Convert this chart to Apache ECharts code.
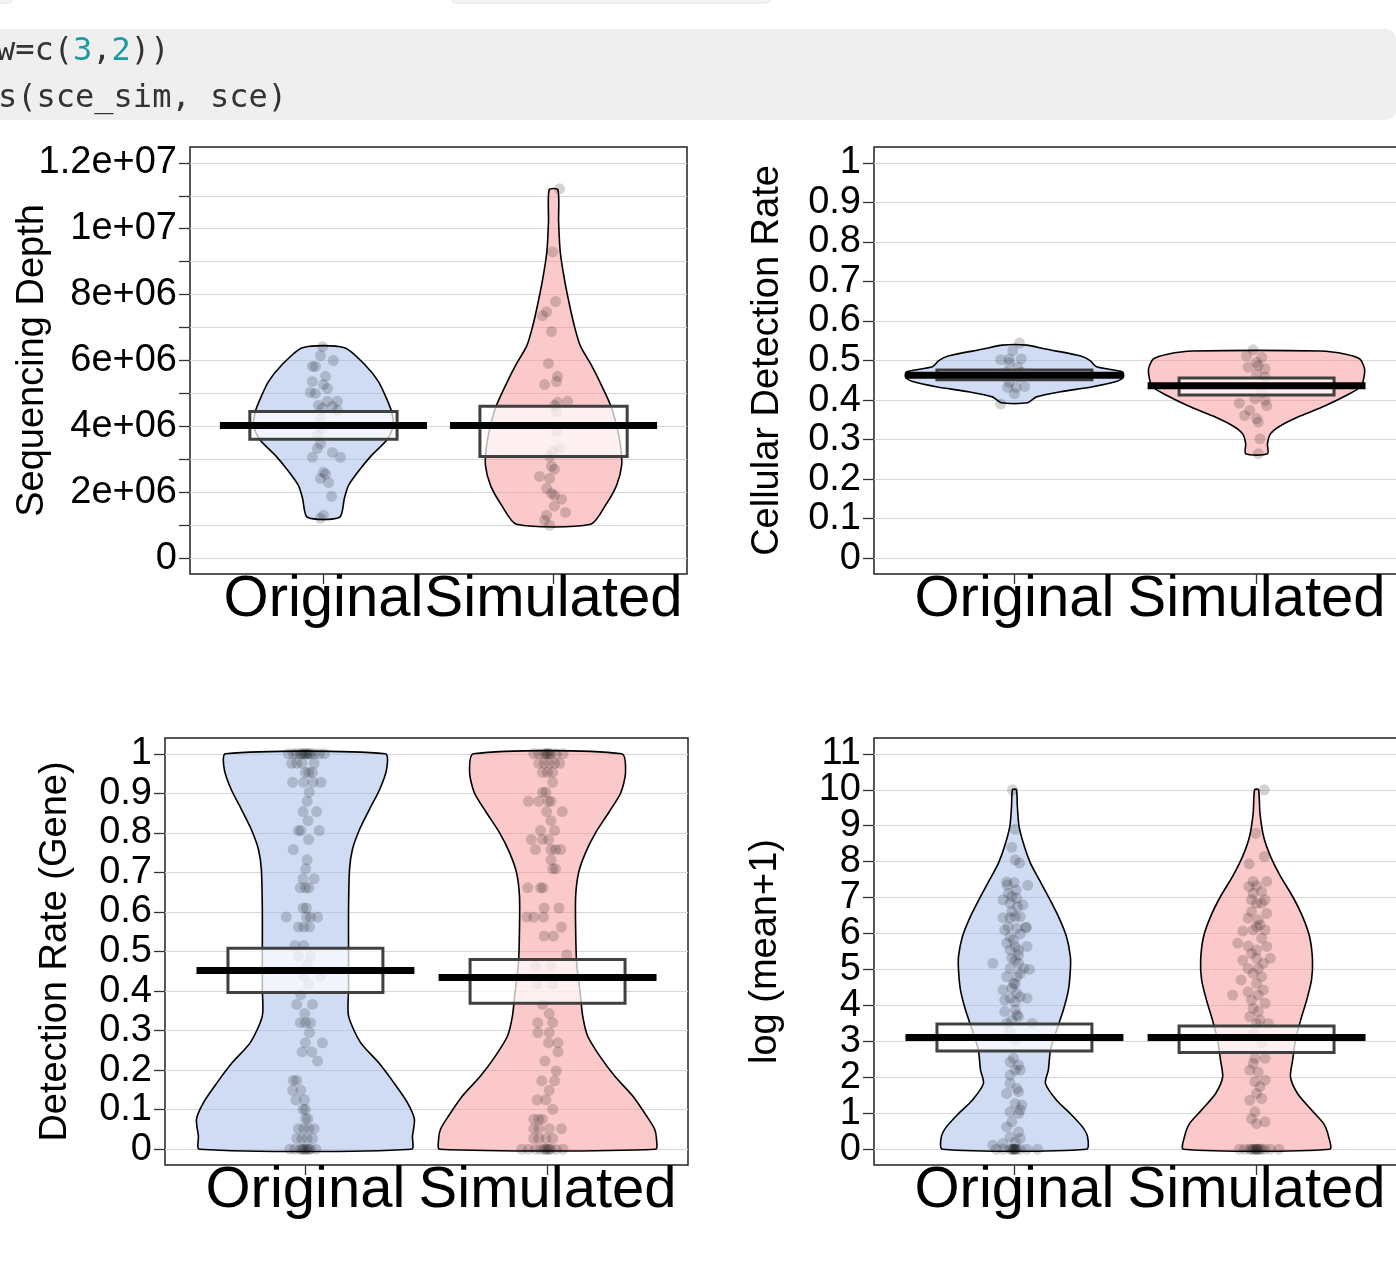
<!DOCTYPE html>
<html>
<head>
<meta charset="utf-8">
<script src="https://cdn.jsdelivr.net/npm/echarts@6/dist/echarts.min.js"></script>
<style>
html, body { margin: 0; padding: 0; background: #fff; }
#main { width: 1396px; height: 1275px; }
</style>
</head>
<body>
<div id="main"></div>
<script>
// groups on the x axis (placed at 1 and 2)
var groups = ['Original', 'Simulated'];

// ---- Sequencing Depth ----
// violin outlines: [value, half width in x units], top to bottom
var depthOrigViolin = [[6.39e6,0.091],[5.85e6,0.183],[5.36e6,0.239],[4.85e6,0.274],[4.45e6,0.296],[4.03e6,0.304],[3.61e6,0.278],[3.12e6,0.209],[2.64e6,0.152],[2.21e6,0.109],[1.82e6,0.091],[1.24e6,0.070]];
var depthSimViolin = [[11.18e6,0.019],[10.21e6,0.022],[9.30e6,0.029],[8.48e6,0.047],[7.67e6,0.070],[7.06e6,0.090],[6.45e6,0.116],[5.85e6,0.165],[5.24e6,0.209],[4.64e6,0.248],[4.03e6,0.274],[3.42e6,0.291],[2.82e6,0.296],[2.21e6,0.274],[1.61e6,0.226],[1.03e6,0.161]];
var depthOrigPts = [[0.996,6.42e6],[0.987,6.15e6],[1.043,6.00e6],[0.952,5.82e6],[0.965,5.82e6],[1.009,5.52e6],[0.952,5.36e6],[1.0,5.27e6],[1.017,5.15e6],[0.943,5.03e6],[0.965,5.0e6],[1.017,4.76e6],[1.061,4.76e6],[0.978,4.64e6],[1.039,4.61e6],[0.996,4.55e6],[1.061,4.48e6],[0.987,4.24e6],[0.996,3.94e6],[0.974,3.73e6],[0.987,3.48e6],[0.974,3.33e6],[1.039,3.21e6],[0.952,3.06e6],[1.074,3.06e6],[1.0,2.61e6],[1.009,2.55e6],[0.987,2.42e6],[1.022,2.30e6],[1.035,1.88e6],[1.0,1.30e6],[0.987,1.21e6]];
var depthSimPts = [[2.026,11.21e6],[1.996,9.30e6],[2.009,7.79e6],[1.970,7.48e6],[1.952,7.36e6],[1.991,6.88e6],[1.978,5.91e6],[2.017,5.52e6],[2.013,5.36e6],[1.961,5.27e6],[2.017,4.73e6],[2.061,4.76e6],[2.004,4.64e6],[2.013,4.45e6],[2.013,3.85e6],[2.026,3.33e6],[1.996,3.24e6],[1.983,3.09e6],[1.991,2.79e6],[2.004,2.70e6],[1.939,2.48e6],[1.983,2.42e6],[1.970,2.12e6],[1.991,1.97e6],[2.004,1.91e6],[2.035,1.79e6],[2.004,1.58e6],[2.052,1.39e6],[1.970,1.30e6],[1.961,1.15e6],[1.983,1.00e6]];
var depthBoxes = [[1, 3.61e6, 4.45e6], [2, 3.09e6, 4.61e6]];
var depthMeans = [[1, 4.03e6], [2, 4.03e6]];
var depthTicks = [0,1e6,2e6,3e6,4e6,5e6,6e6,7e6,8e6,9e6,1e7,1.1e7,1.2e7];
var depthLabelVals = [0,2e6,4e6,6e6,8e6,1e7,1.2e7];
var depthLabelText = ['0','2e+06','4e+06','6e+06','8e+06','1e+07','1.2e+07'];

// ---- Cellular Detection Rate ----
var cdrOrigViolin = [[0.539,0.050],[0.529,0.128],[0.511,0.277],[0.499,0.314],[0.484,0.339],[0.471,0.446],[0.458,0.450],[0.446,0.417],[0.433,0.318],[0.421,0.19],[0.408,0.091],[0.393,0.054]];
var cdrSimViolin = [[0.524,0.264],[0.516,0.368],[0.504,0.426],[0.479,0.446],[0.453,0.442],[0.433,0.430],[0.411,0.368],[0.385,0.281],[0.360,0.182],[0.335,0.099],[0.315,0.058],[0.290,0.045],[0.264,0.045]];
var cdrOrigPts = [[1.021,0.544],[0.993,0.525],[0.979,0.504],[0.943,0.502],[1.028,0.504],[0.979,0.494],[1.014,0.483],[1.028,0.470],[0.965,0.470],[0.993,0.462],[1.021,0.458],[0.979,0.445],[1.042,0.434],[1.007,0.432],[0.972,0.432],[1.0,0.416],[0.943,0.390]];
var cdrSimPts = [[1.986,0.527],[1.958,0.512],[2.021,0.508],[2.0,0.495],[1.965,0.483],[2.007,0.487],[2.035,0.479],[2.0,0.466],[2.035,0.458],[2.021,0.420],[1.993,0.403],[2.035,0.399],[1.929,0.392],[2.042,0.386],[1.972,0.374],[1.951,0.361],[2.0,0.353],[2.007,0.344],[2.014,0.302],[2.007,0.264]];
var cdrBoxes = [[1, 0.451, 0.476], [2, 0.413, 0.456]];
var cdrMeans = [[1, 0.463], [2, 0.436]];

// ---- Detection Rate (Gene) ----
var geneOrigViolin = [[1.0,0.33],[0.96,0.335],[0.909,0.306],[0.859,0.264],[0.808,0.223],[0.758,0.194],[0.707,0.182],[0.606,0.178],[0.505,0.178],[0.404,0.178],[0.337,0.178],[0.270,0.227],[0.219,0.302],[0.169,0.364],[0.118,0.421],[0.076,0.450],[0.033,0.442],[0.0,0.438]];
var geneSimViolin = [[1.0,0.306],[0.952,0.322],[0.901,0.302],[0.851,0.252],[0.800,0.198],[0.750,0.157],[0.699,0.128],[0.640,0.116],[0.556,0.116],[0.472,0.120],[0.388,0.136],[0.337,0.145],[0.287,0.165],[0.236,0.215],[0.185,0.277],[0.135,0.351],[0.084,0.409],[0.051,0.442],[0.025,0.45],[0.0,0.446]];
var geneOrigPts = [[0.929,1],[0.950,1],[0.964,1],[0.979,1],[0.993,1],[1.007,1],[1.021,1],[1.036,1],[1.057,1],[1.079,1],[0.986,1],[1.0,1],[1.014,1],
  [0.943,0.976],[0.964,0.976],[0.986,0.976],[1.036,0.976],[1.0,0.953],[1.014,0.953],[1.029,0.953],[0.947,0.928],[0.993,0.928],[1.031,0.928],[1.064,0.928],
  [1.016,0.903],[1.007,0.880],[0.990,0.854],[1.046,0.854],[1.011,0.831],[0.971,0.806],[0.981,0.806],[1.057,0.806],[1.013,0.783],[0.950,0.758],[1.007,0.732],
  [1.001,0.709],[0.990,0.684],[1.036,0.684],[0.979,0.661],[1.0,0.661],[1.014,0.661],[0.990,0.610],[1.004,0.610],[0.921,0.587],[1.004,0.587],[1.021,0.587],[1.050,0.587],
  [0.971,0.562],[0.993,0.562],[1.017,0.562],[0.957,0.515],[0.993,0.515],[0.971,0.488],[1.021,0.488],[1.007,0.467],[0.993,0.438],[1.064,0.438],[1.014,0.417],
  [0.981,0.391],[0.964,0.366],[1.029,0.366],[0.997,0.343],[0.979,0.320],[1.0,0.320],[1.021,0.320],[1.017,0.295],[1.0,0.269],[1.070,0.269],[0.986,0.246],[1.026,0.246],
  [1.050,0.223],[0.950,0.174],[0.964,0.174],[0.947,0.149],[0.981,0.149],[0.961,0.125],[0.996,0.125],[0.990,0.101],[1.0,0.101],[1.0,0.077],[1.010,0.077],
  [0.971,0.052],[0.993,0.052],[1.014,0.052],[1.036,0.052],[0.964,0.027],[0.986,0.027],[1.007,0.027],[1.029,0.027],
  [0.936,0],[0.957,0],[0.979,0],[0.993,0],[1.007,0],[1.021,0],[1.043,0],[0.986,0],[1.0,0],[1.014,0]];
var geneSimPts = [[1.943,1],[1.964,1],[1.986,1],[2.0,1],[2.014,1],[2.036,1],[2.064,1],[1.993,1],[2.007,1],
  [1.964,0.976],[1.986,0.976],[2.007,0.976],[2.029,0.976],[2.050,0.976],[1.979,0.953],[2.0,0.953],[2.021,0.953],[2.021,0.928],[1.979,0.903],[1.993,0.903],
  [1.921,0.880],[1.964,0.880],[2.004,0.880],[2.014,0.880],[1.996,0.854],[2.061,0.854],[2.014,0.831],[1.971,0.806],[2.029,0.806],[1.933,0.783],[1.979,0.783],[2.004,0.783],
  [1.950,0.758],[2.014,0.758],[2.033,0.758],[2.054,0.758],[2.014,0.732],[2.021,0.709],[2.033,0.709],[1.918,0.661],[1.971,0.661],[1.981,0.661],[1.986,0.610],[2.047,0.610],
  [1.914,0.587],[1.943,0.587],[1.983,0.587],[2.057,0.562],[1.986,0.539],[2.024,0.539],[2.079,0.492],[1.950,0.463],[2.014,0.463],[1.957,0.417],[2.021,0.417],
  [1.979,0.366],[2.007,0.343],[1.960,0.320],[2.021,0.320],[1.960,0.295],[2.007,0.295],[2.004,0.269],[2.043,0.269],[2.043,0.246],[1.989,0.223],[2.036,0.198],
  [1.976,0.173],[2.029,0.173],[2.007,0.149],[1.957,0.125],[1.993,0.125],[2.021,0.101],[1.943,0.076],[1.964,0.076],[1.979,0.076],
  [1.943,0.052],[1.964,0.052],[2.007,0.052],[2.057,0.052],[1.943,0.027],[1.964,0.027],[1.993,0.027],[2.021,0.027],
  [1.893,0],[1.921,0],[1.950,0],[1.971,0],[1.986,0],[2.0,0],[2.014,0],[2.036,0],[2.064,0],[1.993,0],[2.007,0]];
var geneBoxes = [[1, 0.396, 0.508], [2, 0.369, 0.480]];
var geneMeans = [[1, 0.452], [2, 0.434]];
var rateTicks = [0,0.1,0.2,0.3,0.4,0.5,0.6,0.7,0.8,0.9,1];
var rateLabelText = ['0','0.1','0.2','0.3','0.4','0.5','0.6','0.7','0.8','0.9','1'];

// ---- log (mean+1) ----
var logOrigViolin = [[10.0,0.008],[9.54,0.012],[8.98,0.019],[8.42,0.041],[7.96,0.066],[7.49,0.103],[7.03,0.140],[6.47,0.182],[5.91,0.215],[5.36,0.231],[4.99,0.231],[4.43,0.223],[3.87,0.202],[3.31,0.174],[2.76,0.149],[2.20,0.140],[1.83,0.128],[1.36,0.174],[0.99,0.231],[0.62,0.281],[0.34,0.302],[0,0.298]];
var logSimViolin = [[10.0,0.008],[9.35,0.014],[8.70,0.029],[8.14,0.058],[7.59,0.099],[7.03,0.149],[6.47,0.190],[5.91,0.219],[5.26,0.231],[4.71,0.227],[4.15,0.207],[3.59,0.182],[3.04,0.161],[2.48,0.149],[2.01,0.140],[1.55,0.169],[1.09,0.227],[0.71,0.277],[0.34,0.298],[0,0.302]];
var logOrigPts = [[0.992,10.0],[1.003,8.90],[0.989,8.40],[1.003,8.05],[1.021,7.96],[0.970,7.35],[0.999,7.42],[1.055,7.34],[0.975,7.12],[1.007,7.21],
  [0.953,6.94],[0.982,6.84],[1.010,6.98],[1.035,6.80],[0.989,6.61],[0.953,6.44],[0.982,6.44],[1.003,6.47],[1.048,6.17],[1.048,6.17],[0.975,6.19],[1.010,6.15],
  [0.982,5.91],[1.024,5.99],[0.968,5.73],[1.003,5.64],[1.052,5.64],[1.017,5.54],[0.989,5.31],[1.003,5.26],[0.911,5.17],[1.017,5.17],[1.062,5.00],[0.982,5.03],
  [0.968,4.80],[1.010,4.80],[1.024,4.89],[0.996,4.61],[0.953,4.43],[0.989,4.48],[1.010,4.34],[0.982,4.20],[1.052,4.20],[1.003,4.10],
  [0.960,3.83],[1.003,3.87],[1.017,3.69],[0.989,3.59],[1.073,3.50],[0.968,3.50],[0.982,3.31],[1.003,3.04],
  [0.996,2.53],[0.982,2.43],[1.017,2.34],[1.003,2.20],[1.024,2.20],[0.982,2.06],[1.010,1.69],[0.968,1.55],[1.017,1.60],
  [1.003,1.27],[1.031,1.23],[0.982,1.04],[1.017,0.99],[0.968,0.62],[1.017,0.48],[0.982,0.34],[1.024,0.30],[1.003,0.20],[0.911,0.11],[0.953,0.16],
  [0.968,7.44],[0.989,7.03],[1.013,6.75],[1.024,6.47],[0.960,6.10],[0.996,5.82],[1.017,5.40],[0.982,5.54],[1.038,5.03],[1.003,4.61],[1.024,4.24],[0.960,4.15],[1.010,3.73],
  [0.982,1.83],[1.024,1.09],[0.989,0.76],
  [0.925,0],[0.953,0],[0.982,0],[0.996,0],[1.010,0],[1.024,0],[1.052,0],[1.095,0],[0.989,0],[1.003,0],[0.996,0],[1.003,0]];
var logSimPts = [[2.032,10.0],[1.997,8.79],[2.032,8.14],[1.969,7.94],[1.969,7.31],[2.0,7.33],[2.042,7.45],[1.986,7.12],[2.021,7.17],[1.979,6.94],[2.0,6.84],[2.035,6.94],
  [1.965,6.43],[2.007,6.38],[2.042,6.56],[2.014,6.24],[1.943,6.07],[1.986,6.10],[2.035,6.10],[1.922,5.73],[1.965,5.65],[2.0,5.54],[2.042,5.64],
  [1.943,5.26],[2.0,5.31],[2.057,5.31],[1.965,5.03],[2.007,5.03],[1.936,4.71],[2.021,4.80],[1.901,4.29],[1.965,4.38],[2.007,4.29],
  [2.035,4.06],[1.986,3.92],[1.972,3.69],[2.014,3.59],[2.0,3.50],[2.049,3.50],[1.986,3.22],[2.021,2.94],
  [1.993,2.53],[2.035,2.53],[1.972,2.20],[2.007,2.15],[2.035,1.92],[1.993,1.88],[2.0,1.55],[2.021,1.41],[1.993,1.04],[1.979,0.85],[2.035,0.76],[2.0,0.71],
  [1.986,7.45],[2.021,6.84],[1.979,6.61],[2.0,6.19],[2.021,5.87],[1.979,5.45],[2.028,5.17],[1.986,4.89],[2.0,4.61],[2.028,4.43],[1.979,4.15],[2.007,3.83],
  [1.986,2.39],[2.014,1.74],[1.972,1.36],
  [1.929,0],[1.951,0],[1.972,0],[1.986,0],[2.0,0],[2.014,0],[2.035,0],[2.057,0],[2.092,0],[1.993,0],[2.007,0],[2.0,0],[1.979,0],[2.021,0]];
var logBoxes = [[1, 2.73, 3.48], [2, 2.69, 3.43]];
var logMeans = [[1, 3.11], [2, 3.11]];
var logTicks = [0,1,2,3,4,5,6,7,8,9,10,11];
var logLabelText = ['0','1','2','3','4','5','6','7','8','9','10','11'];

var FONT = 'Liberation Sans';
var fills = ['rgba(159,185,233,0.5)', 'rgba(247,147,147,0.5)'];

function pickLabel(vals, texts) {
  return function (v) {
    var best = 0;
    for (var i = 1; i < vals.length; i++) {
      if (Math.abs(vals[i] - v) < Math.abs(vals[best] - v)) best = i;
    }
    return texts[best];
  };
}

function everyOther(arr, start) {
  return arr.filter(function (d, i) { return i % 2 === start; });
}

// two y axes per panel (labels split even/odd) so echarts never drops a label
function makeYPair(idx, top, ticks, labelVals, labelText, name, gap) {
  var fmt = pickLabel(labelVals, labelText);
  var base = {
    gridIndex: idx, type: 'value', position: 'left', min: -0.04 * top, max: 1.04 * top,
    axisLine: { show: false, onZero: false },
    axisLabel: { formatter: fmt, fontSize: 38, color: '#000', margin: 13, fontFamily: FONT,
      showMinLabel: true, showMaxLabel: true }
  };
  var a = echarts.util.merge({
    name: name, nameLocation: 'middle', nameRotate: 90, nameGap: gap, nameMoveOverlap: false,
    nameTextStyle: { fontSize: 38, color: '#000', fontFamily: FONT },
    axisTick: { show: true, length: 11, customValues: ticks, lineStyle: { color: '#333', width: 1.3 } },
    axisLabel: { customValues: everyOther(labelVals, 0) },
    splitLine: { show: true, lineStyle: { color: '#d6d6d6', width: 1.2 } }
  }, base, true);
  var b = echarts.util.merge({
    axisTick: { show: false },
    axisLabel: { customValues: everyOther(labelVals, 1) },
    splitLine: { show: false }
  }, base, true);
  return [a, b];
}

// two x axes per panel, one label each
function makeXPair(idx) {
  var fmt = pickLabel([1, 2], groups);
  return [0, 1].map(function (k) {
    return {
      gridIndex: idx, type: 'value', position: 'bottom', min: 0.42, max: 2.58,
      axisLine: { show: false, onZero: false },
      axisTick: { show: k === 0, length: 10, customValues: [1, 2], lineStyle: { color: '#333', width: 1.3 } },
      axisLabel: { customValues: [k + 1], formatter: fmt, fontSize: 58, color: '#000', margin: -3, fontFamily: FONT },
      splitLine: { show: false }
    };
  });
}

function violinRender(profiles) {
  return function (params, api) {
    var prof = profiles[params.dataIndex];
    var c = api.value(0);
    var pts = [];
    for (var i = 0; i < prof.length; i++) pts.push(api.coord([c + prof[i][1], prof[i][0]]));
    for (var j = prof.length - 1; j >= 0; j--) pts.push(api.coord([c - prof[j][1], prof[j][0]]));
    return {
      type: 'polygon',
      shape: { points: pts, smooth: 0.25 },
      style: { fill: fills[params.dataIndex], stroke: '#000', lineWidth: 1.6 }
    };
  };
}

function boxRender(params, api) {
  var c = api.value(0);
  var p1 = api.coord([c - 0.32, api.value(2)]);
  var p2 = api.coord([c + 0.32, api.value(1)]);
  return {
    type: 'rect',
    shape: { x: p1[0], y: p1[1], width: p2[0] - p1[0], height: p2[1] - p1[1] },
    style: { fill: 'rgba(255,255,255,0.72)', stroke: '#404040', lineWidth: 3 }
  };
}

function meanRender(params, api) {
  var c = api.value(0), m = api.value(1);
  var a = api.coord([c - 0.45, m]), b = api.coord([c + 0.45, m]);
  return {
    type: 'line',
    shape: { x1: a[0], y1: a[1], x2: b[0], y2: b[1] },
    style: { stroke: '#000', lineWidth: 7 }
  };
}

function panelSeries(idx, violins, pts, boxes, means) {
  var ax = { xAxisIndex: idx * 2, yAxisIndex: idx * 2, silent: true };
  return [
    Object.assign({ type: 'custom', z: 2, renderItem: violinRender(violins),
      data: [[1, violins[0][0][0]], [2, violins[1][0][0]]] }, ax),
    Object.assign({ type: 'scatter', z: 3, symbolSize: 11, itemStyle: { color: 'rgba(0,0,0,0.21)' },
      data: pts[0].concat(pts[1]) }, ax),
    Object.assign({ type: 'custom', z: 4, renderItem: boxRender, data: boxes }, ax),
    Object.assign({ type: 'custom', z: 5, renderItem: meanRender, data: means }, ax)
  ];
}

var gridStyle = { show: true, borderColor: '#222', borderWidth: 1.5, backgroundColor: 'transparent',
  outerBoundsMode: 'none', containLabel: false };

var option = {
  animation: false,
  backgroundColor: '#fff',
  textStyle: { fontFamily: FONT },
  grid: [
    Object.assign({ left: 190, top: 147, width: 497, height: 427 }, gridStyle),
    Object.assign({ left: 874, top: 147, width: 523, height: 427 }, gridStyle),
    Object.assign({ left: 165, top: 738, width: 523, height: 427 }, gridStyle),
    Object.assign({ left: 874, top: 738, width: 523, height: 427 }, gridStyle)
  ],
  xAxis: [].concat(makeXPair(0), makeXPair(1), makeXPair(2), makeXPair(3)),
  yAxis: [].concat(
    makeYPair(0, 1.2e7, depthTicks, depthLabelVals, depthLabelText, 'Sequencing Depth', 138),
    makeYPair(1, 1, rateTicks, rateTicks, rateLabelText, 'Cellular Detection Rate', 87),
    makeYPair(2, 1, rateTicks, rateTicks, rateLabelText, 'Detection Rate (Gene)', 90),
    makeYPair(3, 11, logTicks, logTicks, logLabelText, 'log (mean+1)', 89)
  ),
  series: []
    .concat(panelSeries(0, [depthOrigViolin, depthSimViolin], [depthOrigPts, depthSimPts], depthBoxes, depthMeans))
    .concat(panelSeries(1, [cdrOrigViolin, cdrSimViolin], [cdrOrigPts, cdrSimPts], cdrBoxes, cdrMeans))
    .concat(panelSeries(2, [geneOrigViolin, geneSimViolin], [geneOrigPts, geneSimPts], geneBoxes, geneMeans))
    .concat(panelSeries(3, [logOrigViolin, logSimViolin], [logOrigPts, logSimPts], logBoxes, logMeans)),
  graphic: [
    // code cell above the plots
    { type: 'rect', z: -10, shape: { x: -10, y: -20, width: 22, height: 23, r: 4 }, style: { fill: '#f5f5f5', stroke: '#e3e3e3' } },
    { type: 'rect', z: -10, shape: { x: 452, y: -20, width: 318, height: 23, r: 4 }, style: { fill: '#f5f5f5', stroke: '#e3e3e3' } },
    { type: 'rect', z: -10, shape: { x: -20, y: 29, width: 1416, height: 91, r: 10 }, style: { fill: '#efefef' } },
    { type: 'text', z: -9, x: -4, y: 52,
      style: { text: 'w=c({n|3},{n|2}))', fill: '#333', font: '32px "DejaVu Sans Mono"', verticalAlign: 'middle',
        rich: { n: { fill: '#1a9ca3', font: '32px "DejaVu Sans Mono"' } } } },
    { type: 'text', z: -9, x: -2, y: 99,
      style: { text: 's(sce_sim, sce)', fill: '#333', font: '32px "DejaVu Sans Mono"', verticalAlign: 'middle' } }
  ]
};

var chart = echarts.init(document.getElementById('main'), null, { renderer: 'canvas' });
chart.setOption(option);
</script>
</body>
</html>
